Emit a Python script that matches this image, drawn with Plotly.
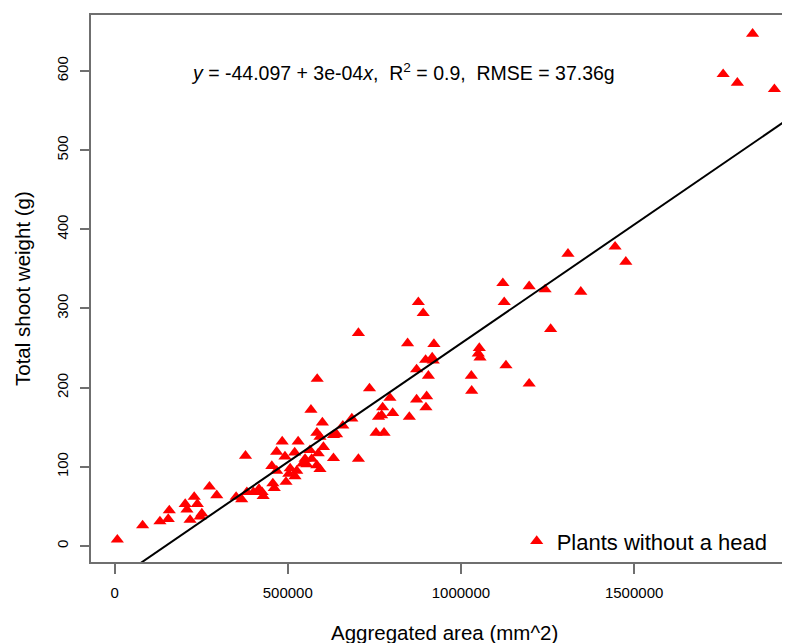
import plotly.graph_objects as go

# aggregated area (mm^2) and total shoot weight (g)
area = [8000, 81000, 131000, 155000, 158000, 204000, 209000, 230000, 239000, 218000,
        247000, 252000, 274000, 295000, 351000, 367000, 382000, 401000, 417000, 426000,
        429000, 378000,
        457000, 461000, 495000, 454000, 468000, 468000, 484000, 492000, 507000, 503000,
        520000, 530000, 526000, 543000, 550000, 564000, 569000, 584000, 593000, 588000,
        603000, 584000, 593000, 600000, 632000, 632000, 641000, 659000, 685000, 567000,
        585000, 704000, 704000, 736000, 755000, 778000, 762000, 774000, 771000, 795000,
        803000, 851000, 846000, 872000, 901000, 899000, 872000, 906000, 898000, 917000,
        920000, 922000, 877000, 891000, 521000, 555000,
        1030000, 1031000, 1053000, 1050000, 1055000, 1130000, 1197000, 1121000, 1197000,
        1243000, 1125000, 1259000, 1309000, 1445000, 1476000, 1346000,
        1842000, 1757000, 1798000, 1905000]
weight = [8, 26, 31, 34, 45, 53, 46, 62, 53, 33,
          37, 41, 75, 64, 62, 59, 68, 68, 72, 68,
          63, 114,
          79, 73, 81, 101, 95, 119, 132, 113, 98, 91,
          118, 132, 95, 104, 110, 121, 110, 102, 97, 117,
          125, 143, 138, 156, 111, 140, 141, 152, 161, 172,
          211, 110, 269, 199, 143, 143, 163, 175, 165, 187,
          168, 163, 256, 185, 189, 175, 223, 215, 235, 238,
          234, 255, 308, 294, 88, 103,
          215, 196, 250, 243, 238, 228, 205, 332, 328,
          324, 308, 274, 369, 378, 359, 321,
          647, 596, 585, 577]

# fitted line from the annotation
intercept = -44.097
slope = 3e-04

x_ticks = [0, 500000, 1000000, 1500000]
x_tick_labels = ['0', '500000', '1000000', '1500000']
y_ticks = [0, 100, 200, 300, 400, 500, 600]
y_tick_labels = ['0', '100', '200', '300', '400', '500', '600']

x_range = [-68000, 1950000]
y_range = [-20.2, 670.7]

font = 'Liberation Sans, Arial, sans-serif'
axis_col = '#6f6f6f'

fig = go.Figure()
fig.add_trace(go.Scatter(x=area, y=weight, mode='markers', name='Plants without a head',
                         marker=dict(symbol='triangle-up', size=11.5, color='#ff0000')))
fig.add_trace(go.Scatter(x=x_range, y=[intercept + slope * v for v in x_range], mode='lines',
                         line=dict(color='black', width=2), showlegend=False))

# the page body has an 8px margin, so the figure is 8px smaller than the window
fig.update_layout(
    width=782, height=635,
    margin=dict(l=83, r=0, t=7, b=81),
    paper_bgcolor='white', plot_bgcolor='white',
    font=dict(family=font, color='black', size=15),
    legend=dict(x=0.609, y=0.038, xanchor='left', yanchor='middle',
                bgcolor='rgba(0,0,0,0)', font=dict(size=22)),
    annotations=[
        dict(text='<i>y</i> = -44.097 + 3e-04<i>x</i>,\u00a0 R<sup>2</sup> = 0.9,\u00a0 RMSE = 37.36g',
             x=834000, y=599, xref='x', yref='y', showarrow=False,
             font=dict(size=19.5, color='black')),
        dict(text='Aggregated area (mm^2)', x=0.5064, y=-0.128, xref='paper', yref='paper',
             showarrow=False, yanchor='middle', font=dict(size=20.5)),
        dict(text='Total shoot weight (g)', x=-0.098, y=0.5, xref='paper', yref='paper',
             showarrow=False, textangle=-90, xanchor='center', font=dict(size=20.5)),
    ],
)
fig.update_xaxes(range=x_range, tickvals=x_ticks, ticktext=x_tick_labels,
                 showgrid=False, zeroline=False, showline=True, mirror=True,
                 linecolor=axis_col, linewidth=1.5, ticks='outside', ticklen=10,
                 tickcolor=axis_col, tickwidth=1.5, ticklabelstandoff=6)
fig.update_yaxes(range=y_range, tickvals=y_ticks, ticktext=y_tick_labels,
                 showgrid=False, zeroline=False, showline=True,
                 linecolor=axis_col, linewidth=1.5, ticks='outside', ticklen=9,
                 tickcolor=axis_col, tickwidth=1.5, tickangle=-90, ticklabelstandoff=6)

fig.write_html('out.html')
